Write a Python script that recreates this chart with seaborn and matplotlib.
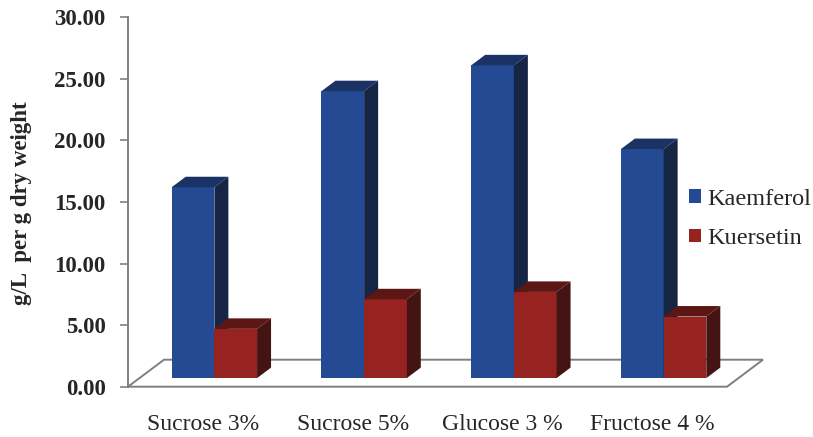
import matplotlib
matplotlib.use('Agg')
import matplotlib.pyplot as plt
from matplotlib.patches import Polygon, Patch
import pandas as pd
import seaborn as sns

# --------------------------------------------------------------------------
# data
# --------------------------------------------------------------------------
categories = ['Sucrose 3%', 'Sucrose 5%', 'Glucose 3 %', 'Fructose 4 %']
series = ['Kaemferol', 'Kuersetin']
kaemferol = [15.5, 23.3, 25.4, 18.6]
kuersetin = [4.0, 6.4, 7.0, 5.0]
yticks = [0, 5, 10, 15, 20, 25, 30]
ytick_labels = ['0.00', '5.00', '10.00', '15.00', '20.00', '25.00', '30.00']
ylabel = 'g/L  per g dry weight'

df = pd.DataFrame({
    'sugar': categories * 2,
    'compound': [series[0]] * len(categories) + [series[1]] * len(categories),
    'value': kaemferol + kuersetin,
})

# face colours: front / top / side
front = {'Kaemferol': '#234A92', 'Kuersetin': '#962320'}
top = {'Kaemferol': '#1B3264', 'Kuersetin': '#5C1714'}
side = {'Kaemferol': '#162544', 'Kuersetin': '#431413'}

# --------------------------------------------------------------------------
# plot
# --------------------------------------------------------------------------
sns.set_theme(style='white')
plt.rcParams['font.family'] = ['Liberation Serif', 'DejaVu Serif']

W, H = 813, 437
fig = plt.figure(figsize=(W / 100, H / 100), dpi=100)
ax_left, ax_bottom, ax_w, ax_h = 128, 386.7, 599, 369.4
ax = fig.add_axes([ax_left / W, 1 - ax_bottom / H, ax_w / W, ax_h / H])

sns.barplot(data=df, x='sugar', y='value', hue='compound', order=categories,
            hue_order=series, palette=front, width=0.57, saturation=1,
            errorbar=None, legend=False, edgecolor='none', ax=ax)
ax.set_xlim(-0.5, len(categories) - 0.5)
ax.set_ylim(0, 30)

# pixel -> data conversion for the fake 3d depth
px_x = len(categories) / ax_w
px_y = 30 / ax_h
floor_dx, floor_dy = 36 * px_x, 27 * px_y      # full floor depth
off_dx, off_dy = 11.5 * px_x, 8.6 * px_y       # bar front plane
bar_dx, bar_dy = 14 * px_x, 10.5 * px_y        # bar depth

# floor
floor = Polygon([(-0.5, 0), (len(categories) - 0.5, 0),
                 (len(categories) - 0.5 + floor_dx, floor_dy),
                 (-0.5 + floor_dx, floor_dy)],
                closed=True, facecolor='white', edgecolor='#7f7f7f',
                linewidth=1.4, zorder=1, clip_on=False)
ax.add_patch(floor)

for k, (name, cont) in enumerate(zip(series, ax.containers)):
    z = 3 + k
    for p in cont.patches:
        x0 = p.get_x() + off_dx
        w = p.get_width()
        h = p.get_height()
        p.set_x(x0)
        p.set_y(off_dy)
        p.set_zorder(z)
        yb, yt = off_dy, off_dy + h
        ax.add_patch(Polygon([(x0, yt), (x0 + w, yt), (x0 + w + bar_dx, yt + bar_dy),
                              (x0 + bar_dx, yt + bar_dy)], closed=True,
                             facecolor=top[name], edgecolor='none', zorder=z, clip_on=False))
        ax.add_patch(Polygon([(x0 + w, yb), (x0 + w + bar_dx, yb + bar_dy),
                              (x0 + w + bar_dx, yt + bar_dy), (x0 + w, yt)], closed=True,
                             facecolor=side[name], edgecolor='none', zorder=z, clip_on=False))

# axes styling
for s in ['top', 'right', 'bottom']:
    ax.spines[s].set_visible(False)
ax.spines['left'].set_color('#7f7f7f')
ax.spines['left'].set_linewidth(1.4)
ax.set_yticks(yticks)
ax.set_yticklabels(ytick_labels, fontsize=16.5, fontweight='bold')
ax.tick_params(axis='y', direction='out', length=6, width=1.2, color='#7f7f7f',
               pad=10, left=True)
ax.tick_params(axis='x', length=0, pad=20, labelsize=17)
ax.set_xlabel('')
ax.set_ylabel(ylabel, fontsize=16.5, fontweight='bold')
ax.yaxis.set_label_coords(-0.160, 0.497)

handles = [Patch(facecolor=front[s], edgecolor='none') for s in series]
fig.legend(handles, series, loc='center left', bbox_to_anchor=(667 / W, 1 - 219 / H),
           frameon=False, fontsize=17.5, handlelength=0.5, handleheight=0.5,
           handletextpad=0.25, labelspacing=0.75)

fig.savefig('out.png', dpi=100)
